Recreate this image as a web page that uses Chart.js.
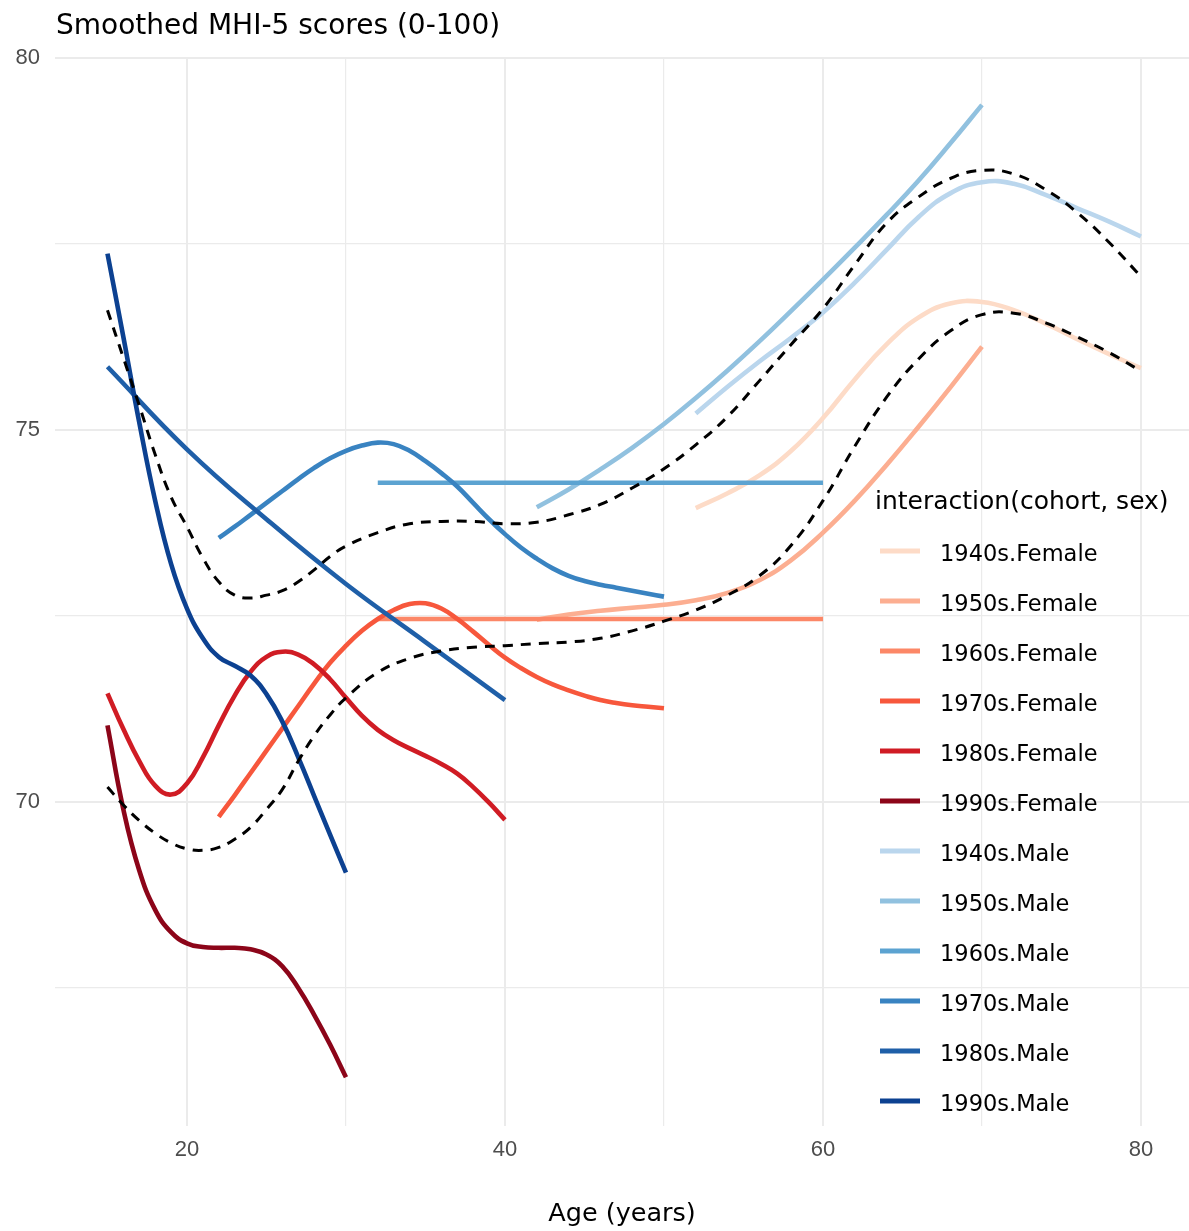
<!DOCTYPE html>
<html>
<head>
<meta charset="utf-8">
<title>Smoothed MHI-5 scores</title>
<script src="https://cdn.jsdelivr.net/npm/chart.js@4.4.1/dist/chart.umd.min.js"></script>
<style>
 html,body{margin:0;padding:0;background:#fff;}
 #wrap{width:1189px;height:1231px;}
</style>
</head>
<body>
<div id="wrap"><canvas id="mhi" width="1189" height="1231"></canvas></div>
<script>
// age grids per birth cohort
const ages1990 = [15,16,17,18,19,20,21,22,23,24,25,26,27,28,29,30];
const ages1980 = [15,16,17,18,19,20,21,22,23,24,25,26,27,28,29,30,31,32,33,34,35,36,37,38,39,40];
const ages1980m = [15,20,25,30,35,40];
const ages1970 = [22,23,24,25,26,27,28,29,30,31,32,33,34,35,36,37,38,39,40,41,42,43,44,45,46,47,48,49,50];
const ages1960 = [32,46,60];
const ages1950 = [42,44,46,48,50,52,54,56,58,60,62,64,66,68,70];
const ages1940 = [52,54,56,58,60,62,64,66,68,70,72,74,76,78,80];
const agesAll  = [15,16,17,18,19,20,21,22,23,24,25,26,27,28,29,30,32,34,36,38,40,42,44,46,48,50,52,54,56,58,60,62,64,66,68,70,72,74,76,78,80];

// smoothed MHI-5 by cohort, women
const f1940 = [73.95,74.15,74.39,74.72,75.16,75.68,76.15,76.51,76.7,76.72,76.61,76.43,76.22,76.02,75.83];
const f1950 = [72.45,72.52,72.57,72.61,72.65,72.71,72.81,72.98,73.25,73.62,74.05,74.53,75.04,75.57,76.12];
const f1960 = [72.46,72.46,72.46];
const f1970 = [69.8,70.09,70.39,70.69,70.99,71.29,71.59,71.87,72.1,72.3,72.46,72.58,72.66,72.67,72.6,72.46,72.29,72.11,71.94,71.8,71.68,71.58,71.5,71.43,71.37,71.33,71.3,71.28,71.26];
const f1980 = [71.46,70.98,70.55,70.22,70.1,70.25,70.6,71.03,71.43,71.75,71.95,72.02,71.98,71.85,71.65,71.4,71.16,70.97,70.83,70.72,70.62,70.51,70.38,70.2,69.99,69.76];
const f1990 = [71.03,69.9,69.08,68.55,68.25,68.1,68.05,68.04,68.04,68.02,67.95,67.79,67.5,67.14,66.74,66.3];

// smoothed MHI-5 by cohort, men
const m1940 = [75.22,75.58,75.92,76.24,76.58,76.98,77.42,77.86,78.18,78.33,78.31,78.16,77.98,77.8,77.6];
const m1950 = [73.96,74.2,74.47,74.76,75.08,75.43,75.8,76.19,76.6,77.02,77.45,77.89,78.35,78.85,79.37];
const m1960 = [74.29,74.29,74.29];
const m1970 = [73.55,73.7,73.86,74.02,74.18,74.34,74.49,74.62,74.72,74.79,74.83,74.81,74.72,74.58,74.42,74.24,74.02,73.8,73.6,73.42,73.27,73.14,73.04,72.97,72.92,72.88,72.84,72.8,72.76];
const m1980 = [75.85,74.74,73.8,72.93,72.15,71.37];
const m1990 = [77.37,76.25,75.1,74.05,73.2,72.6,72.2,71.95,71.83,71.7,71.45,71.08,70.6,70.08,69.56,69.05];

// overall smoothers by sex (dashed)
const femaleAll = [70.2,69.96,69.75,69.58,69.45,69.37,69.35,69.39,69.5,69.66,69.9,70.17,70.55,70.89,71.17,71.4,71.74,71.93,72.03,72.08,72.1,72.13,72.15,72.2,72.3,72.43,72.58,72.78,73.04,73.45,74.05,74.78,75.44,75.95,76.33,76.55,76.57,76.44,76.25,76.04,75.79];
const maleAll   = [76.61,75.97,75.33,74.67,74.1,73.7,73.28,72.96,72.78,72.74,72.78,72.84,72.96,73.12,73.3,73.44,73.62,73.74,73.77,73.77,73.74,73.76,73.86,74.0,74.22,74.48,74.8,75.18,75.66,76.15,76.63,77.22,77.78,78.13,78.38,78.49,78.44,78.23,77.92,77.52,77.06];

const cohorts = ['1940s','1950s','1960s','1970s','1980s','1990s'];
const femaleAges = [ages1940, ages1950, ages1960, ages1970, ages1980, ages1990];
const maleAges = [ages1940, ages1950, ages1960, ages1970, ages1980m, ages1990];
const femaleSeries = [f1940, f1950, f1960, f1970, f1980, f1990];
const maleSeries = [m1940, m1950, m1960, m1970, m1980, m1990];
const femaleColors = ['#fddbc7','#fcae91','#fc8767','#f7573c','#d01c24','#8c0519'];
const maleColors = ['#bad6ed','#91c1df','#5ca3d1','#3983c1','#1f5fa8','#0c4191'];

const xGrid = [20,30,40,50,60,70,80];
const yGrid = [67.5,70,72.5,75,77.5,80];

const titleText = 'Smoothed MHI-5 scores (0-100)';
const legendTitle = 'interaction(cohort, sex)';

const pts = (xs, ys) => xs.map((x, i) => ({x: x, y: ys[i]}));

const groups = [];
cohorts.forEach((c, i) => groups.push({label: c + '.Female', data: pts(femaleAges[i], femaleSeries[i]), color: femaleColors[i]}));
cohorts.forEach((c, i) => groups.push({label: c + '.Male', data: pts(maleAges[i], maleSeries[i]), color: maleColors[i]}));

const datasets = groups.map((g, i) => ({
  label: g.label,
  data: g.data,
  borderColor: g.color,
  borderWidth: 4.6,
  pointRadius: 0,
  tension: 0.45,
  order: groups.length + 2 - i   // later groups drawn on top
}));
[femaleAll, maleAll].forEach((vals, i) => datasets.push({
  label: i ? 'Male' : 'Female',
  data: pts(agesAll, vals),
  borderColor: '#000',
  borderWidth: 3,
  borderDash: [10, 8],
  pointRadius: 0,
  tension: 0.45,
  order: 1 - i
}));

// title and legend are painted straight on the canvas
const decor = {
  id: 'decor',
  afterDraw(chart) {
    const ctx = chart.ctx;
    ctx.save();
    ctx.fillStyle = '#000';
    ctx.textBaseline = 'alphabetic';
    ctx.textAlign = 'left';
    ctx.font = '28px "DejaVu Sans"';
    ctx.fillText(titleText, 56, 34);
    ctx.font = '25px "DejaVu Sans"';
    ctx.fillText(legendTitle, 875, 509);
    ctx.font = '22.5px "DejaVu Sans"';
    chart.data.datasets.filter(d => !d.borderDash).forEach((ds, i) => {
      const y = 551 + i * 50;
      ctx.strokeStyle = ds.borderColor;
      ctx.lineWidth = 5;
      ctx.beginPath(); ctx.moveTo(880, y); ctx.lineTo(920, y); ctx.stroke();
      ctx.fillText(ds.label, 940, y + 10);
    });
    ctx.restore();
  }
};

const tickFont = {family: '"Liberation Sans", Arial, sans-serif', size: 22};

new Chart(document.getElementById('mhi'), {
  type: 'line',
  data: {datasets: datasets},
  plugins: [decor],
  options: {
    responsive: false,
    animation: false,
    events: [],
    layout: {padding: {top: 57, left: 0, right: 0, bottom: 0}},
    plugins: {legend: {display: false}, tooltip: {enabled: false}, title: {display: false}},
    scales: {
      x: {
        type: 'linear',
        min: 11.7,
        max: 83.02,
        afterBuildTicks: axis => { axis.ticks = xGrid.map(v => ({value: v})); },
        afterFit: scale => { scale.height = 105; },
        border: {display: false},
        grid: {color: '#ebebeb', drawTicks: false, lineWidth: c => (c.tick && c.tick.value % 20 === 0) ? 2 : 1.2},
        ticks: {
          autoSkip: false, maxRotation: 0, padding: 11, color: '#4d4d4d',
          font: tickFont,
          callback: v => v % 20 === 0 ? v : ''
        },
        title: {display: true, text: 'Age (years)', color: '#000', font: {family: '"DejaVu Sans"', size: 25.5, lineHeight: 1.2}, padding: {top: 0, bottom: 1}}
      },
      y: {
        type: 'linear',
        min: 65.645,
        max: 80.013,
        afterBuildTicks: axis => { axis.ticks = yGrid.map(v => ({value: v})); },
        afterFit: scale => { scale.width = 55; },
        border: {display: false},
        grid: {color: '#ebebeb', drawTicks: false, lineWidth: c => (c.tick && c.tick.value % 5 === 0) ? 2 : 1.2},
        ticks: {
          padding: 15, color: '#4d4d4d',
          font: tickFont,
          callback: v => v % 5 === 0 ? v : ''
        }
      }
    }
  }
});
</script>
</body>
</html>
